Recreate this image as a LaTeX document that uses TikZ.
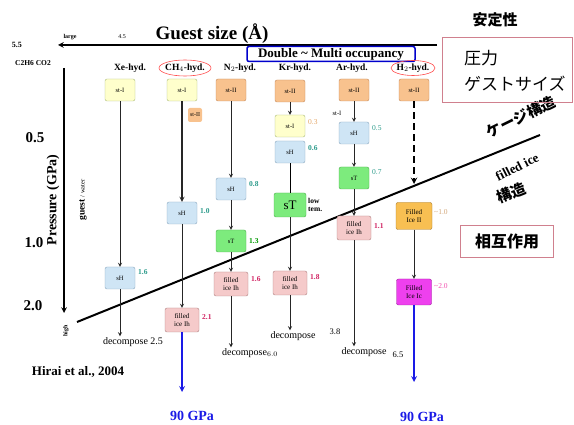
\documentclass[tikz,border=0pt]{standalone}
\usepackage{fontspec}
\setmainfont{Liberation Serif}
\newfontfamily\jpfont{Noto Sans CJK JP}
\usetikzlibrary{shapes.geometric}
\definecolor{stIfill}{HTML}{FFFFCC}
\definecolor{stIline}{HTML}{A8B878}
\definecolor{stIIfill}{HTML}{F8C28E}
\definecolor{stIIline}{HTML}{C48A5A}
\definecolor{sHfill}{HTML}{CFE5F5}
\definecolor{sHline}{HTML}{8AA6BE}
\definecolor{sTfill}{HTML}{7DEB7D}
\definecolor{sTline}{HTML}{4EAE4E}
\definecolor{ihfill}{HTML}{F5CACA}
\definecolor{ihline}{HTML}{AE8282}
\definecolor{iiFill}{HTML}{F8BF52}
\definecolor{iiLine}{HTML}{A87A2A}
\definecolor{icFill}{HTML}{EE40EE}
\definecolor{icLine}{HTML}{9A1E9A}
\definecolor{tealnum}{HTML}{2A9A8A}
\definecolor{crimnum}{HTML}{D02060}
\definecolor{pinkline}{HTML}{D0808E}
\definecolor{gpablue}{HTML}{1A1AE6}
\begin{document}
\begin{tikzpicture}[x=1pt, y=-1pt, >=stealth, every node/.style={inner sep=1pt},
    phase/.style={draw, rounded corners=2pt, minimum width=30pt, minimum height=22pt, align=center, font=\fontsize{6.5}{7}\selectfont},
    stone/.style={phase, fill=stIfill, draw=stIline},
    sttwo/.style={phase, fill=stIIfill, draw=stIIline},
    shbox/.style={phase, fill=sHfill, draw=sHline},
    stbox/.style={phase, fill=sTfill, draw=sTline},
    ihbox/.style={phase, fill=ihfill, draw=ihline, minimum width=34pt, minimum height=24pt, font=\fontsize{7}{7.5}\selectfont},
    hyd/.style={font=\fontsize{9.5}{10}\selectfont\bfseries},
    num/.style={font=\fontsize{7.5}{8}\selectfont\bfseries, anchor=west},
    dec/.style={font=\fontsize{10}{11}\selectfont},
    flow/.style={->, line width=0.8pt, black!85},
    gpa/.style={->, line width=1.6pt, gpablue},
    gpatext/.style={font=\fontsize{14}{15}\selectfont\bfseries, text=gpablue},
    tick/.style={font=\fontsize{15}{16}\selectfont\bfseries}]
    \useasboundingbox (0,0) rectangle (574,425);

    % axes
    \node[font=\fontsize{19}{20}\selectfont\bfseries] (sizeTitle) at (212,34) {Guest size (Å)};
    \node[font=\fontsize{8}{9}\selectfont\bfseries] (big) at (17,45) {5.5};
    \node[font=\fontsize{6}{7}\selectfont\bfseries] (large) at (70,37) {large};
    \node[font=\fontsize{6}{7}\selectfont] (small) at (122,37) {4.5};
    \node[font=\fontsize{7.5}{8}\selectfont\bfseries] (gases) at (33,63) {C2H6 CO2};
    \coordinate (sizeR) at (437,45);
    \coordinate (sizeL) at (58,45);
    \draw[->, line width=1.5pt] (sizeR) -- (sizeL);
    \node[draw=blue!80!black, line width=1.5pt, rounded corners=2pt, minimum width=168pt, minimum height=15pt, inner sep=0pt, fill=white, font=\fontsize{13}{13}\selectfont\bfseries] (multi) at (331,54) {Double \textasciitilde{} Multi occupancy};
    \coordinate (axTop) at (64,68);
    \coordinate (axBot) at (64,313);
    \draw[->, line width=1.5pt] (axTop) -- (axBot);
    \node[rotate=90, font=\fontsize{14}{15}\selectfont\bfseries] (pLabel) at (53,200) {Pressure (GPa)};
    \node[rotate=90] (gw) at (83,200) {\fontsize{9.5}{10}\selectfont\bfseries guest \fontsize{6.5}{7}\mdseries/ water};
    \node[tick] (p05) at (35,138) {0.5};
    \node[tick] (p10) at (34,243) {1.0};
    \node[tick] (p20) at (33,306) {2.0};
    \node[rotate=90, font=\fontsize{6}{7}\selectfont\bfseries] (high) at (66,331) {high};

    % boundary cage / filled ice
    \coordinate (divL) at (77,322);
    \coordinate (divR) at (540,135);
    \draw[line width=2pt] (divL) -- (divR);
    \node[rotate=26, font=\jpfont\fontsize{15}{16}\selectfont\bfseries] (cage) at (521,117) {ケージ構造};
    \node[rotate=27, font=\fontsize{13}{14}\selectfont\bfseries] (filled) at (517,167) {filled ice};
    \node[rotate=22, font=\jpfont\fontsize{15}{16}\selectfont\bfseries] (filledJp) at (511,193) {構造};

    % side notes
    \node[font=\jpfont\fontsize{15}{16}\selectfont\bfseries] (stab) at (495,20) {安定性};
    \draw[pinkline, line width=0.6pt] (442,37) rectangle (572,102);
    \node[font=\jpfont\fontsize{17}{18}\selectfont, anchor=west] (press) at (463,58) {圧力};
    \node[font=\jpfont\fontsize{17}{18}\selectfont, anchor=west] (gsize) at (463,84) {ゲストサイズ};
    \node[draw=pinkline, line width=0.6pt, minimum width=93pt, minimum height=32pt, font=\jpfont\fontsize{16}{17}\selectfont\bfseries] (inter) at (507,241) {相互作用};

    % hydrate names
    \node[hyd] (xeLab) at (130,68) {Xe-hyd.};
    \node[hyd] (chLab) at (185,68) {CH$_4$-hyd.};
    \node[hyd] (nLab) at (240,68) {N$_2$-hyd.};
    \node[hyd] (krLab) at (295,68) {Kr-hyd.};
    \node[hyd] (arLab) at (352,68) {Ar-hyd.};
    \node[hyd] (hLab) at (413,68) {H$_2$-hyd.};
    \node[draw=red!70, ellipse, minimum width=52pt, minimum height=16pt, line width=0.6pt] (chRing) at (185,68) {};
    \node[draw=red!70, ellipse, minimum width=44pt, minimum height=15pt, line width=0.6pt] (hRing) at (413,68) {};

    % Xe column
    \node[stone] (xeSt) at (120,90) {st-I};
    \node[shbox] (xeSH) at (120,278) {sH};
    \node[num, text=tealnum] (xeN) at (137,272) {1.6};
    \node[dec] (xeDec) at (133,342) {decompose 2.5};
    \draw[flow] (xeSt) -- (xeSH); \draw[flow] (xeSH) -- (xeDec.north -| xeSH);

    % CH4 column
    \node[stone] (chSt) at (182,90) {st-I};
    \node[sttwo, minimum width=14pt, minimum height=14pt, draw=none, font=\fontsize{6}{6}\selectfont] (chSt2) at (195,115) {st-II};
    \node[shbox] (chSH) at (182,213) {sH};
    \node[num, text=tealnum] (chN1) at (199,211) {1.0};
    \node[ihbox] (chIh) at (182,320) {filled\\ice Ih};
    \node[num, text=crimnum] (chN2) at (201,317) {2.1};
    \coordinate (chEnd) at (182,392);
    \node[gpatext] (chGPa) at (192,416) {90 GPa};
    \draw[flow, line width=1.2pt] (chSt) -- (chSH); \draw[flow] (chSH) -- (chIh);
    \draw[gpa] (chIh) -- (chEnd);

    % N2 column
    \node[sttwo] (nSt) at (231,90) {st-II};
    \node[shbox] (nSH) at (231,189) {sH};
    \node[num, text=tealnum] (nN1) at (248,184) {0.8};
    \node[stbox] (nST) at (231,241) {sT};
    \node[num, text=green!60!black] (nN2) at (248,241) {1.3};
    \node[ihbox] (nIh) at (231,284) {filled\\ice Ih};
    \node[num, text=crimnum] (nN3) at (250,279) {1.6};
    \node[dec] (nDec) at (250,353) {decompose$_{6.0}$};
    \draw[flow] (nSt) -- (nSH); \draw[flow] (nSH) -- (nST);
    \draw[flow] (nST) -- (nIh); \draw[flow] (nIh) -- (nDec.north -| nIh);

    % Kr column
    \node[sttwo] (krSt2) at (290,91) {st-II};
    \node[stone] (krSt1) at (290,126) {st-I};
    \node[num, text=brown!60!orange!70, font=\fontsize{7.5}{8}\selectfont] (krN1) at (307,122) {0.3};
    \node[shbox] (krSH) at (290,152) {sH};
    \node[num, text=tealnum] (krN2) at (307,148) {0.6};
    \node[stbox, minimum width=32pt, minimum height=24pt, font=\fontsize{13}{14}\selectfont] (krST) at (290,205) {sT};
    \node[font=\fontsize{7.5}{8}\selectfont\bfseries, align=left, anchor=west] (lowT) at (307,205) {low\\tem.};
    \node[ihbox] (krIh) at (290,283) {filled\\ice Ih};
    \node[num, text=crimnum] (krN3) at (309,277) {1.8};
    \node[dec] (krDec) at (293,336) {decompose};
    \node[font=\fontsize{8.5}{9}\selectfont] (krP) at (335,332) {3.8};
    \draw[flow] (krSt2) -- (krSt1); \draw[line width=0.8pt] (krSH) -- (krST);
    \draw[flow] (krST) -- (krIh); \draw[flow] (krIh) -- (krDec.north -| krIh);

    % Ar column
    \node[sttwo] (arSt) at (354,90) {st-II};
    \node[font=\fontsize{6.5}{7}\selectfont] (arSt1) at (337,113) {st-I};
    \node[shbox] (arSH) at (354,133) {sH};
    \node[num, text=tealnum, font=\fontsize{7.5}{8}\selectfont] (arN1) at (371,128) {0.5};
    \node[stbox] (arST) at (354,178) {sT};
    \node[num, text=tealnum, font=\fontsize{7.5}{8}\selectfont] (arN2) at (371,172) {0.7};
    \node[ihbox] (arIh) at (354,228) {filled\\ice Ih};
    \node[num, text=crimnum] (arN3) at (373,226) {1.1};
    \node[dec] (arDec) at (364,352) {decompose};
    \node[font=\fontsize{8.5}{9}\selectfont] (arP) at (398,355) {6.5};
    \draw[flow] (arSt) -- (arSH); \draw[flow] (arSH) -- (arST);
    \draw[flow] (arST) -- (arIh); \draw[flow] (arIh) -- (arIh |- arDec.north);

    % H2 column
    \node[sttwo] (hSt) at (414,90) {st-II};
    \coordinate (hHit) at (414,184);
    \node[phase, fill=iiFill, draw=iiLine, minimum width=36pt, minimum height=27pt, font=\fontsize{7}{7.5}\selectfont] (hII) at (414,216) {Filled\\Ice II};
    \node[num, text=brown!70, font=\fontsize{7.5}{8}\selectfont] (hN1) at (433,212) {\textasciitilde1.0};
    \node[phase, fill=icFill, draw=icLine, minimum width=35pt, minimum height=26pt, font=\fontsize{7}{7.5}\selectfont] (hIc) at (414,292) {Filled\\Ice Ic};
    \node[num, text=magenta!70, font=\fontsize{7.5}{8}\selectfont] (hN2) at (433,286) {\textasciitilde2.0};
    \coordinate (hEnd) at (414,382);
    \node[gpatext] (hGPa) at (422,417) {90 GPa};
    \draw[->, line width=1.8pt, dash pattern=on 7pt off 4pt] (hSt) -- (hHit);
    \draw[flow] (hII) -- (hIc); \draw[gpa] (hIc) -- (hEnd);

    % reference
    \node[font=\fontsize{13}{14}\selectfont\bfseries] (ref) at (78,372) {Hirai et al., 2004};
\end{tikzpicture}
\end{document}
